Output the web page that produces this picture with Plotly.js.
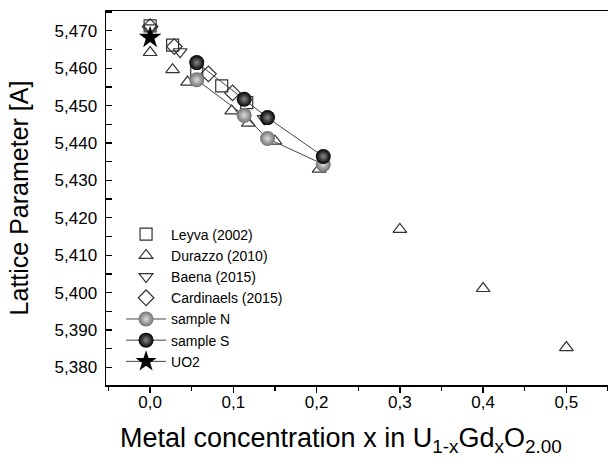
<!DOCTYPE html>
<html>
<head>
<meta charset="utf-8">
<script src="https://cdn.plot.ly/plotly-3.0.1.min.js"></script>
<style>html,body{margin:0;padding:0;background:#fff;}#chart{width:608px;height:464px;}</style>
</head>
<body>
<div id="chart"></div>
<script>
// Data
var leyvaX = [0.0, 0.027, 0.056, 0.086, 0.116];
var leyvaY = [5.4713, 5.4662, 5.4593, 5.4553, 5.4508];

var durazzoX = [0.0, 0.027, 0.045, 0.098, 0.118, 0.15, 0.203, 0.30, 0.40, 0.50];
var durazzoY = [5.4642, 5.4596, 5.4563, 5.4486, 5.4453, 5.4405, 5.4330, 5.4169, 5.4011, 5.3853];

var baenaX = [0.0, 0.036, 0.137];
var baenaY = [5.4708, 5.4644, 5.4465];

var cardinaelsX = [0.0, 0.029, 0.070, 0.099];
var cardinaelsY = [5.4711, 5.4658, 5.4585, 5.4534];

var sampleNX = [0.056, 0.113, 0.141, 0.208];
var sampleNY = [5.4569, 5.4474, 5.4412, 5.4343];

var sampleSX = [0.056, 0.113, 0.141, 0.208];
var sampleSY = [5.4615, 5.4517, 5.4468, 5.4364];

var uo2X = [0.0];
var uo2Y = [5.4682];

var xTicks = [0, 0.1, 0.2, 0.3, 0.4, 0.5];
var yTicks = [5.38, 5.39, 5.40, 5.41, 5.42, 5.43, 5.44, 5.45, 5.46, 5.47];

var names = ["Leyva (2002)", "Durazzo (2010)", "Baena (2015)", "Cardinaels (2015)", "sample N", "sample S", "UO2"];
var xTitle = "Metal concentration x in U<sub>1-x</sub>Gd<sub>x</sub>O<sub>2.00</sub>";
var yTitle = "Lattice Parameter [A]";

var openMarker = function(sym, size){
  return {symbol: sym, size: size, color: "#333", line: {color: "#333", width: 1.2}};
};

var traces = [
  {x: leyvaX, y: leyvaY, name: names[0], mode: "markers", type: "scatter", marker: openMarker("square-open", 12)},
  {x: durazzoX, y: durazzoY, name: names[1], mode: "markers", type: "scatter", marker: openMarker("triangle-up-open", 12)},
  {x: baenaX, y: baenaY, name: names[2], mode: "markers", type: "scatter", marker: openMarker("triangle-down-open", 12)},
  {x: cardinaelsX, y: cardinaelsY, name: names[3], mode: "markers", type: "scatter", marker: openMarker("diamond-open", 12)},
  {x: sampleNX, y: sampleNY, name: names[4], mode: "lines+markers", type: "scatter",
   line: {color: "#444", width: 1},
   marker: {symbol: "circle", size: 15, color: "#707070", gradient: {type: "radial", color: "#dcdcdc"}, line: {width: 0}}},
  {x: sampleSX, y: sampleSY, name: names[5], mode: "lines+markers", type: "scatter",
   line: {color: "#444", width: 1},
   marker: {symbol: "circle", size: 15, color: "#000", gradient: {type: "radial", color: "#8a8a8a"}, line: {width: 0}}},
  {x: uo2X, y: uo2Y, name: names[6], mode: "lines+markers", type: "scatter",
   line: {color: "#444", width: 1},
   marker: {symbol: "star", size: 17, color: "#000", line: {width: 0}}}
];

var layout = {
  width: 608, height: 464,
  margin: {l: 106, r: 0, t: 11, b: 79},
  paper_bgcolor: "#fff", plot_bgcolor: "#fff",
  separators: ",.",
  font: {family: "'Liberation Sans', Arial, sans-serif", color: "#000", size: 17},
  showlegend: true,
  legend: {x: 0.03, y: 0.445, xanchor: "left", yanchor: "top", bgcolor: "rgba(0,0,0,0)",
           font: {size: 14, color: "#000"}, tracegroupgap: 0, itemsizing: "trace", itemwidth: 40},
  xaxis: {
    range: [-0.053, 0.55], tickvals: xTicks, tickformat: ".1f",
    ticks: "outside", ticklen: 6, tickwidth: 1.3, tickcolor: "#000",
    minor: {dtick: 0.05, tick0: 0, ticks: "outside", ticklen: 4, tickwidth: 1.3, tickcolor: "#000"},
    showline: true, linecolor: "#000", linewidth: 1.5, mirror: true,
    showgrid: false, zeroline: false,
    tickfont: {size: 17},
    ticklabelstandoff: -5
  },
  yaxis: {
    range: [5.3753, 5.4753], tickvals: yTicks, tickformat: ".3f",
    ticks: "inside", ticklen: 6, tickwidth: 1.3, tickcolor: "#000",
    minor: {dtick: 0.005, tick0: 5.38, ticks: "inside", ticklen: 6, tickwidth: 1.3, tickcolor: "#000"},
    showline: true, linecolor: "#000", linewidth: 1.5, mirror: false,
    showgrid: false, zeroline: false,
    tickfont: {size: 17},
    ticklabelstandoff: 4,
    title: {text: yTitle, font: {size: 25}, standoff: 19}
  },
  annotations: [
    {text: xTitle, xref: "paper", yref: "paper", x: 0.468, y: -0.097, xanchor: "center", yanchor: "top",
     showarrow: false, font: {size: 27, color: "#000"}}
  ]
};

Plotly.newPlot("chart", traces, layout, {displayModeBar: false, staticPlot: true});
</script>
</body>
</html>
